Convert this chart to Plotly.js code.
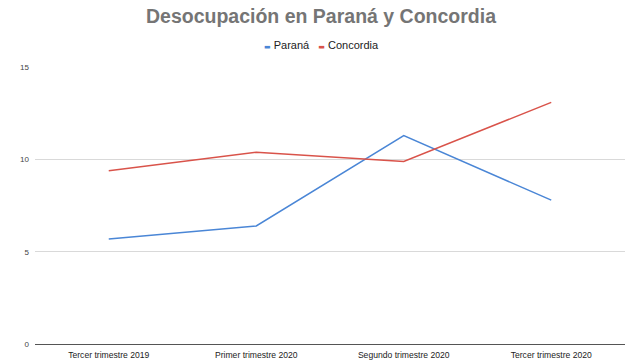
<!DOCTYPE html>
<html>
<head>
<meta charset="utf-8">
<script src="https://cdn.plot.ly/plotly-3.0.1.min.js"></script>
<style>html,body{margin:0;padding:0;background:#fff;}#chart{width:642px;height:361px;}</style>
</head>
<body>
<div id="chart"></div>
<script>
const categories = ["Tercer trimestre 2019", "Primer trimestre 2020", "Segundo trimestre 2020", "Tercer trimestre 2020"];
const seriesNames = ["Paraná", "Concordia"];
const parana = [5.7, 6.4, 11.3, 7.8];
const concordia = [9.4, 10.4, 9.9, 13.1];
const yTicks = [0, 5, 10, 15];
const colors = ["#4a86d6", "#d9534a"];

const traces = [
  {x: categories, y: parana, name: seriesNames[0], type: "scatter", mode: "lines",
   line: {color: colors[0], width: 1.5}, showlegend: false},
  {x: categories, y: concordia, name: seriesNames[1], type: "scatter", mode: "lines",
   line: {color: colors[1], width: 1.5}, showlegend: false}
];

const legendText = seriesNames.map((n, i) =>
  "<span style=\"color:" + colors[i] + ";font-size:7px;font-family:DejaVu Sans\">▬</span> " + n).join("   ");

const layout = {
  width: 642, height: 361,
  paper_bgcolor: "#ffffff", plot_bgcolor: "#ffffff",
  margin: {l: 35, r: 17, t: 67, b: 17},
  font: {family: "Liberation Sans, Arial, sans-serif", color: "#333"},
  title: {text: "<b>Desocupación en Paraná y Concordia</b>", x: 0.5, xanchor: "center",
          y: 0.956, yanchor: "middle",
          font: {size: 19.5, color: "#757575", family: "Liberation Sans, Arial, sans-serif"}},
  showlegend: false,
  annotations: [{
    text: legendText, xref: "paper", yref: "paper", x: 0.485, xanchor: "center",
    y: 1 + 22 / 277, yanchor: "middle", showarrow: false,
    font: {size: 11, color: "#222", family: "Liberation Sans, Arial, sans-serif"}
  }],
  xaxis: {type: "category", range: [-0.5, 3.5], showgrid: false, zeroline: false,
          showline: false, ticks: "", ticklabelstandoff: 4,
          tickfont: {size: 8.6, color: "#222"}, fixedrange: true},
  yaxis: {range: [0, 15.02], tickvals: yTicks, ticktext: yTicks.map(String), showgrid: true,
          gridcolor: "#d9d9d9", gridwidth: 1, zeroline: true, zerolinecolor: "#555",
          zerolinewidth: 1, showline: false, ticks: "", ticklabelstandoff: 5,
          tickfont: {size: 8, color: "#444"}, fixedrange: true}
};

Plotly.newPlot("chart", traces, layout, {displayModeBar: false, staticPlot: true});
</script>
</body>
</html>
